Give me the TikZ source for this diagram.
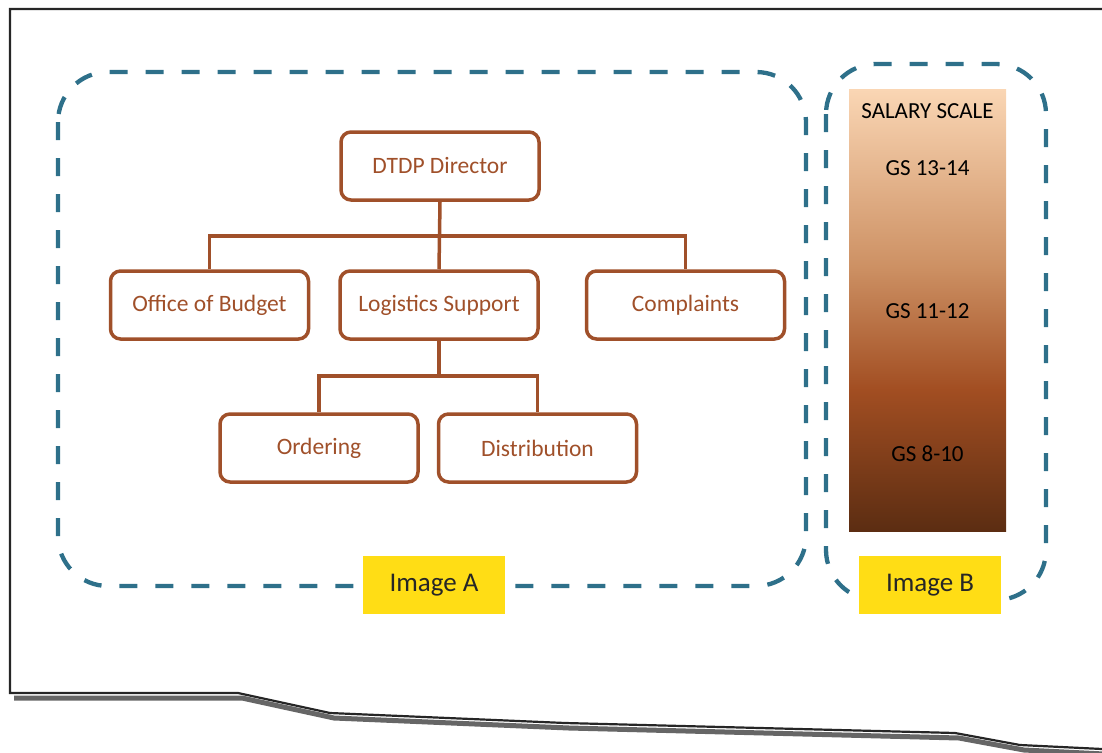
\documentclass[tikz,border=0pt]{standalone}
\usepackage{fontspec}
\setmainfont{Carlito}
\definecolor{teal}{RGB}{46,112,138}
\definecolor{org}{RGB}{160,80,42}
\definecolor{lab}{RGB}{255,221,21}
\definecolor{sc0}{RGB}{92,45,18}
\definecolor{sc1}{RGB}{162,78,34}
\definecolor{sc2}{RGB}{205,145,100}
\definecolor{sc3}{RGB}{250,214,180}
\pgfdeclareverticalshading{salary}{100bp}{color(0bp)=(sc0); color(25bp)=(sc0); color(41bp)=(sc1); color(55bp)=(sc2); color(75bp)=(sc3); color(100bp)=(sc3)}
\tikzset{
  dashbox/.style={draw=teal, line width=4.3pt, dash pattern=on 18pt off 18pt, rounded corners=50pt},
  orgbox/.style={draw=org, line width=3.5pt, rounded corners=10pt, minimum width=198pt, minimum height=68pt, text=org, font=\fontsize{23.5}{28}\selectfont, fill=white},
  orgline/.style={draw=org, line width=3.5pt},
  labbox/.style={fill=lab, minimum width=142pt, minimum height=58pt, font=\fontsize{27}{32}\selectfont, text=black!85},
  sal/.style={font=\fontsize{23}{28}\selectfont, text=black}
}
\begin{document}
\begin{tikzpicture}[x=1pt,y=-1pt]
\useasboundingbox (0,0) rectangle (1102,752);
% frame shadow
\draw[line width=5pt, black!60] (14,698) -- (242,698) -- (334,718) -- (569,728) -- (959,738) -- (1024,750) -- (1104,754);
\draw[line width=2.2pt, black!85] (1102,9) -- (10,9) -- (10,693) -- (238,693) -- (330,713) -- (565,723) -- (955,733) -- (1020,745) -- (1102,749);
% dashed regions
\draw[dashbox] (58,72) rectangle (806,586);
\draw[dashbox] (826,64) rectangle (1046,600);
% salary scale
\shade[shading=salary] (849,89) rectangle (1006,531);
\node[sal] (ss) at (927.5,111) {SALARY SCALE};
\node[sal] (g1) at (927.5,168) {GS 13-14};
\node[sal] (g2) at (927.5,311) {GS 11-12};
\node[sal] (g3) at (927.5,454) {GS 8-10};
% org chart
\node[orgbox] (dir) at (440,166) {DTDP Director};
\node[orgbox] (bud) at (209.5,305) {Office of Budget};
\node[orgbox] (log) at (439,305) {Logistics Support};
\node[orgbox] (com) at (685.5,305) {Complaints};
\node[orgbox] (ord) at (319,448) {Ordering};
\node[orgbox] (dis) at (537.5,448) {Distribution};
\coordinate (j1) at (440,236);
\coordinate (j2) at (439,376);
\draw[orgline] (dir.south) -- (log.north);
\draw[orgline] (bud.north) |- (j1) -| (com.north);
\draw[orgline] (log.south) -- (j2);
\draw[orgline] (ord.north) |- (j2) -| (dis.north);
% labels
\node[labbox] (la) at (434,585) {Image A};
\node[labbox] (lb) at (930,585) {Image B};
\end{tikzpicture}
\end{document}
